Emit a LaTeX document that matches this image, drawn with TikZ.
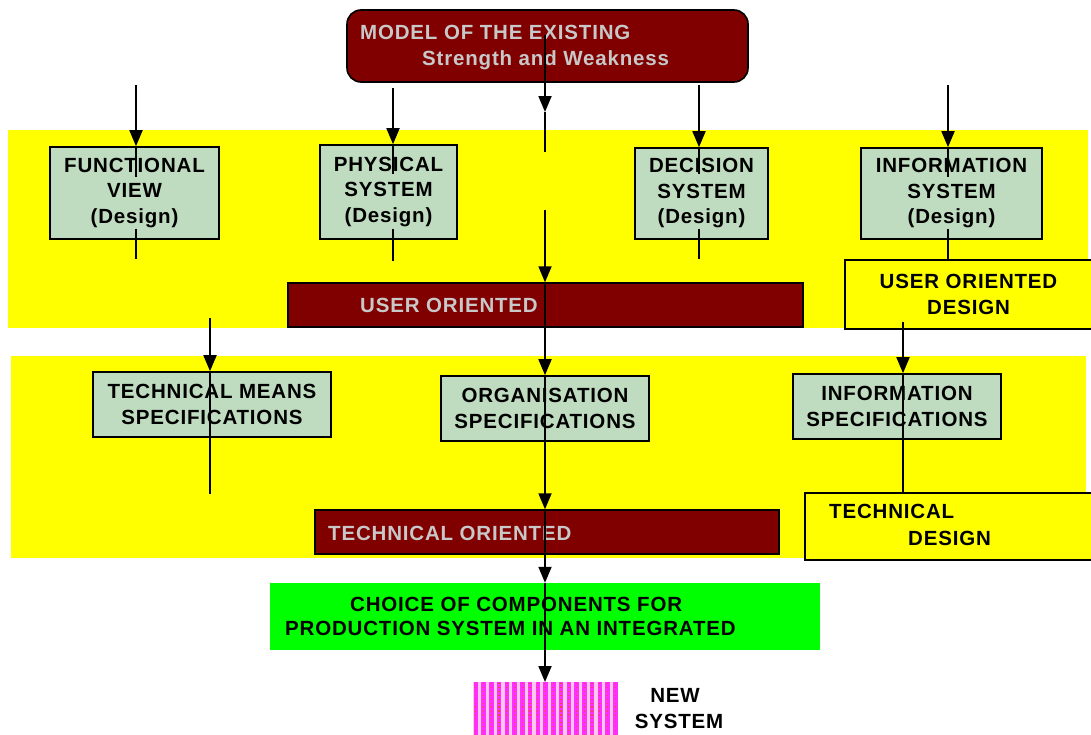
\documentclass[tikz,border=0pt]{standalone}
\usepackage{fontspec}
\setmainfont{Liberation Sans}
\usetikzlibrary{arrows.meta,shapes.misc,calc}
\definecolor{maroon}{HTML}{800000}
\definecolor{sage}{HTML}{C0DCC0}
\definecolor{silvertext}{HTML}{C8C8C8}
\definecolor{bandyellow}{HTML}{FFFF00}
\definecolor{limegreen}{HTML}{00FF00}
\definecolor{stripe}{HTML}{FF30FF}
\definecolor{stripebg}{HTML}{FFC8F0}
\begin{document}
\begin{tikzpicture}[x=1pt,y=-1pt,
  txt/.style={font=\bfseries\fontsize{20.5}{25.5}\selectfont\addfontfeature{LetterSpace=4}, inner sep=0, align=center},
  band/.style={fill=bandyellow, draw=none},
  viewbox/.style={txt, rectangle, draw=black, line width=1.6, fill=sage},
  notebox/.style={txt, rectangle, draw=black, line width=1.6, fill=bandyellow},
  phase/.style={chamfered rectangle, chamfered rectangle xsep=5pt, chamfered rectangle ysep=5pt,
    draw=black, line width=1.4, fill=maroon, inner sep=0},
  paletxt/.style={txt, text=silvertext, anchor=base west},
  darktxt/.style={txt, anchor=base west},
  wire/.style={draw=black, line width=1.8},
  arr/.style={wire, -{Triangle[width=13pt,length=16pt]}}
]
\useasboundingbox (0,0) rectangle (1091,734);
\clip (0,0) rectangle (1091,734);
\fill[white] (0,0) rectangle (1091,734);

% two yellow stages
\path[band] (8,130) rectangle (1088,328);
\path[band] (11,356) rectangle (1086,558);

% model of the existing system
\node[draw=black, line width=1.6, fill=maroon, rounded corners=14pt, minimum width=401, minimum height=72, inner sep=0]
  (model) at (547.5,46) {};
\node[paletxt] (modelA) at (360,39) {MODEL OF THE EXISTING};
\node[paletxt] (modelB) at (422,65) {Strength and Weakness};

% design views
\node[viewbox, minimum width=169, minimum height=92] (func) at (134.5,193) {FUNCTIONAL\\VIEW\\(Design)};
\node[viewbox, minimum width=137, minimum height=94] (phys) at (388.5,192) {PHYSICAL\\SYSTEM\\(Design)};
\node[viewbox, minimum width=133, minimum height=91] (dec) at (701.5,193.5) {DECISION\\SYSTEM\\(Design)};
\node[viewbox, minimum width=181, minimum height=91] (info) at (951.5,193.5) {INFORMATION\\SYSTEM\\(Design)};

% user oriented phase
\node[phase, minimum width=515, minimum height=44] (uo) at (545.5,305) {};
\node[paletxt] (uoT) at (360,312) {USER ORIENTED};
\node[notebox, minimum width=247, minimum height=69] (uod) at (968.5,294.5) {USER ORIENTED\\DESIGN};

% specifications
\node[viewbox, minimum width=238, minimum height=65] (tms) at (212,404.5) {TECHNICAL MEANS\\SPECIFICATIONS};
\node[viewbox, minimum width=208, minimum height=65] (org) at (545,408.5) {ORGANISATION\\SPECIFICATIONS};
\node[viewbox, minimum width=208, minimum height=65] (ispec) at (897,406.5) {INFORMATION\\SPECIFICATIONS};

% technical oriented phase
\node[phase, minimum width=464, minimum height=44] (to) at (547,532) {};
\node[paletxt] (toT) at (328,540) {TECHNICAL ORIENTED};
\node[notebox, minimum width=287, minimum height=67] (td) at (948.5,526.5) {};
\node[darktxt] (tdA) at (829,518) {TECHNICAL};
\node[darktxt] (tdB) at (908,545) {DESIGN};

% choice of components
\node[fill=limegreen, minimum width=550, minimum height=67, inner sep=0] (choice) at (545,616.5) {};
\node[darktxt] (choiceA) at (350,611) {CHOICE OF COMPONENTS FOR};
\node[darktxt] (choiceB) at (285,635) {PRODUCTION SYSTEM IN AN INTEGRATED};

% new system, a striped block
\node[fill=stripebg, minimum width=145, minimum height=60, inner sep=0, anchor=north] (newsys) at (545.5,682) {};
\foreach \i in {0,...,18} {
  \draw[stripe, line width=4.6] ($(newsys.north west)+(3+\i*7.75,0)$) -- ++(0,60);
  \draw[red!75, line width=1.3, dash pattern=on 1.3pt off 2.6pt] ($(newsys.north west)+(3+\i*7.75,1)$) -- ++(0,60);
}
\node[darktxt, anchor=base] (newA) at (675,702) {NEW};
\node[darktxt, anchor=base] (newB) at (679,728) {SYSTEM};

% free line ends above and below the design views
\coordinate (fTop) at (136,85);
\coordinate (pTop) at (393,88);
\coordinate (dTop) at (699,85);
\coordinate (iTop) at (948,85);
\coordinate (mid) at (545,35);
\coordinate (midGap) at (545,210);
\coordinate (tTop) at (210,318);
\coordinate (sTop) at (903,322);

% feeds into the design views
\draw[arr] (fTop) -- (fTop |- func.north);
\draw[wire] (fTop |- func.north) -- ++(0,31);
\draw[wire] (fTop |- func.south) ++(0,-11) -- ++(0,30);
\draw[arr] (pTop) -- (pTop |- phys.north);
\draw[wire] (pTop |- phys.north) -- ++(0,30);
\draw[wire] (pTop |- phys.south) ++(0,-11) -- ++(0,32);
\draw[arr] (dTop) -- (dTop |- dec.north);
\draw[wire] (dTop |- dec.north) -- ++(0,27);
\draw[wire] (dTop |- dec.south) ++(0,-11) -- ++(0,30);
\draw[arr] (iTop) -- (iTop |- info.north);
\draw[wire] (iTop |- info.north) -- ++(0,30);
\draw[wire] (iTop |- info.south) ++(0,-11) -- (iTop |- uod.north);

% central line of the method
\draw[arr] (mid) -- ++(0,77) coordinate (midTip);
\draw[wire] (midTip) -- ++(0,40);
\draw[arr] (midGap) -- (midGap |- uo.north);
\draw[arr] (midGap |- uo.north) -- (midGap |- org.north);
\draw[arr] (midGap |- org.north) -- (midGap |- to.north);
\draw[arr] (midGap |- to.north) -- (midGap |- choice.north);
\draw[arr] (midGap |- choice.north) -- (midGap |- newsys.north);

% feeds into the specifications
\draw[arr] (tTop) -- (tTop |- tms.north);
\draw[wire] (tTop |- tms.north) -- ++(0,123);
\draw[arr] (sTop) -- (sTop |- ispec.north);
\draw[wire] (sTop |- ispec.north) -- (sTop |- td.north);
\end{tikzpicture}
\end{document}
